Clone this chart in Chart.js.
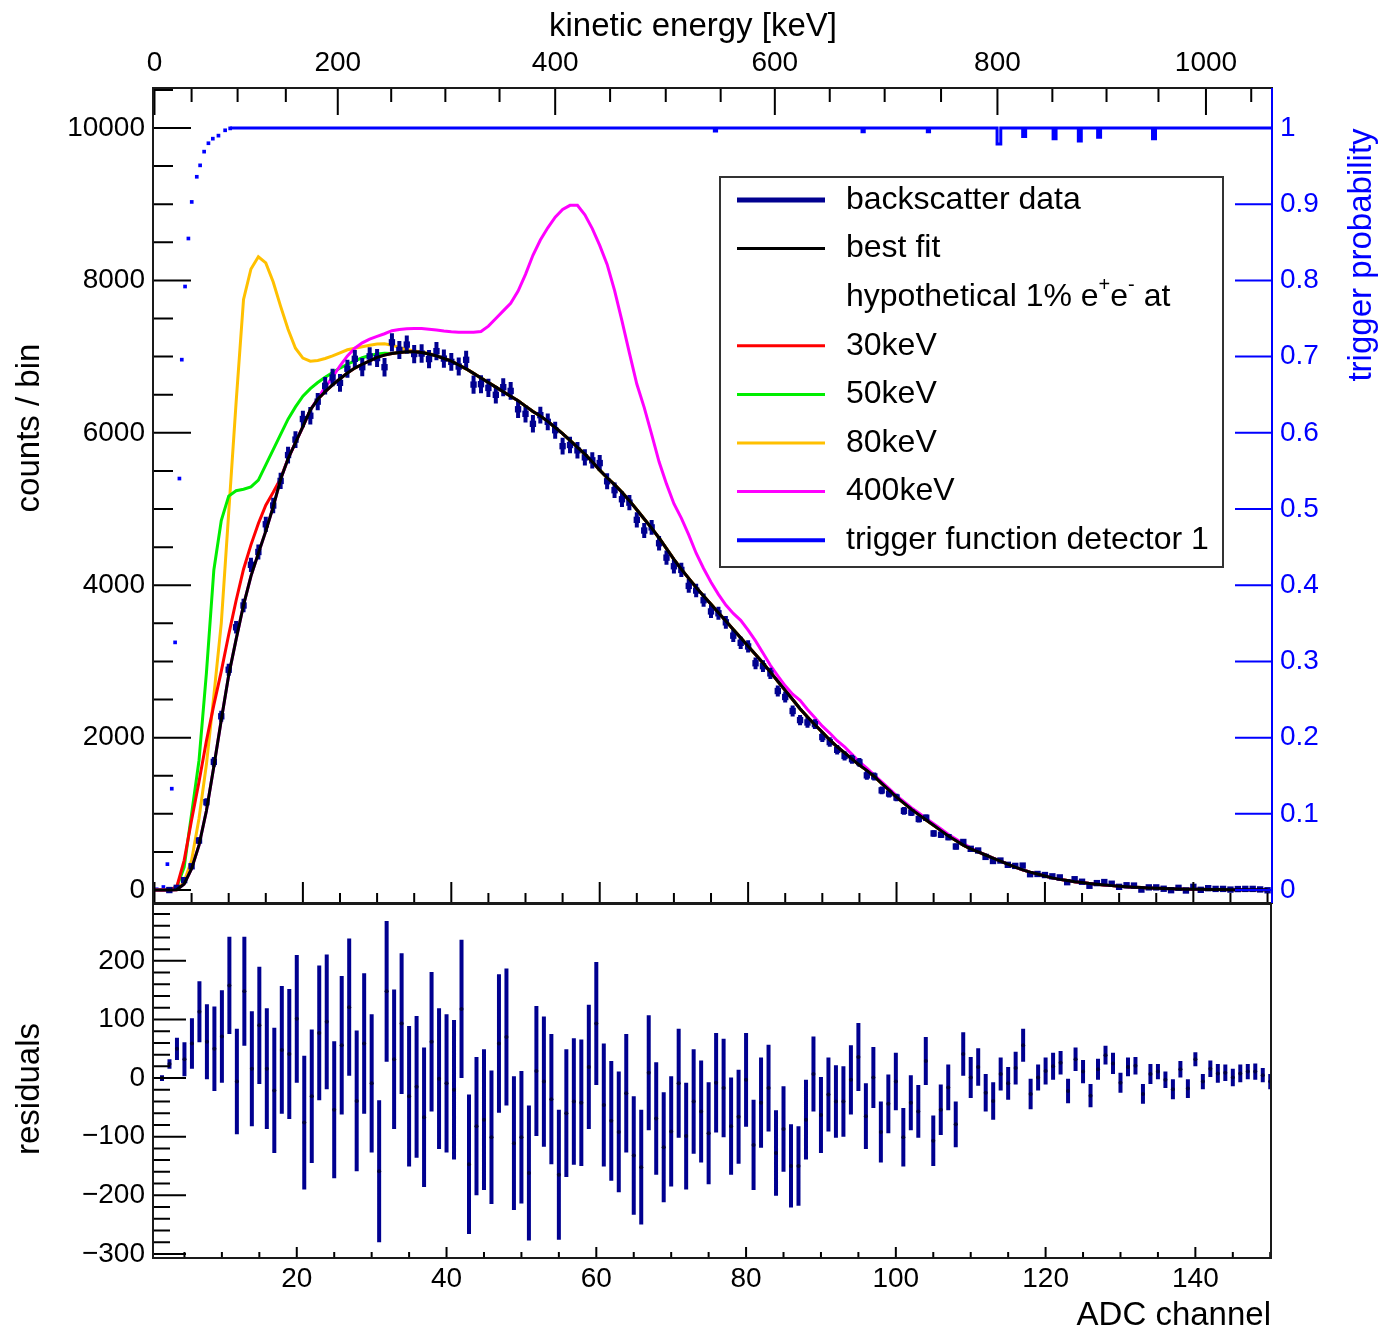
<!DOCTYPE html>
<html>
<head>
<meta charset="utf-8">
<script src="https://cdn.jsdelivr.net/npm/chart.js@4.4.1/dist/chart.umd.min.js"></script>
<style>
  html, body { margin: 0; padding: 0; background: #fff; }
  #wrap { position: relative; width: 1385px; height: 1335px; }
  canvas { position: absolute; left: 0; }
  #top { top: 0; }
  #bottom { top: 900px; }
</style>
</head>
<body>
<div id="wrap">
  <canvas id="bottom" width="1385" height="435"></canvas>
  <canvas id="top" width="1385" height="910"></canvas>
</div>
<script>
// best fit, counts per ADC channel, channel 0..150
const fitCounts = [
  0, 0, 0, 5, 80, 280, 590, 1040, 1620, 2230,
  2820, 3290, 3740, 4120, 4420, 4710, 5030, 5390, 5660, 5870,
  6080, 6300, 6440, 6540, 6630, 6710, 6785, 6850, 6900, 6945,
  6990, 7020, 7040, 7055, 7065, 7065, 7055, 7035, 7010, 6975,
  6940, 6890, 6840, 6780, 6720, 6660, 6600, 6540, 6480, 6420,
  6350, 6280, 6220, 6150, 6070, 5990, 5900, 5810, 5720, 5620,
  5510, 5410, 5320, 5220, 5110, 4990, 4870, 4750, 4620, 4480,
  4340, 4210, 4090, 3970, 3860, 3750, 3640, 3530, 3420, 3310,
  3200, 3090, 2980, 2860, 2740, 2620, 2500, 2380, 2270, 2170,
  2070, 1970, 1880, 1800, 1720, 1640, 1570, 1490, 1400, 1310,
  1220, 1140, 1060, 990, 920, 850, 780, 710, 650, 590,
  540, 500, 460, 420, 380, 340, 300, 265, 235, 210,
  185, 160, 140, 125, 110, 98, 86, 76, 66, 58,
  50, 44, 38, 33, 28, 24, 20, 17, 14, 12,
  10, 9, 8, 7, 6, 5, 5, 4, 4, 3,
  3
];

// data - fit, channel 2..150
const residuals = [
  0, 24, 50, 32, 59, 113, 62, 50, 71, 158,
  -6, 148, 16, 90, 16, -21, 48, 41, 101, -76,
  -31, 77, 96, -54, 56, 121, -39, 59, -9, -159,
  148, 32, 93, -31, -15, -67, 62, -1, -9, -20,
  118, -147, -82, -71, -101, 59, 70, -111, -101, -162,
  12, -6, -36, -165, -60, -40, -42, 19, 93, -46,
  -73, -92, -26, -132, -152, 9, -69, -118, -91, -9,
  -99, -40, -57, -94, -8, -17, -82, -66, -3, -114,
  -42, -17, -128, -87, -150, -150, -71, 7, -63, -28,
  -40, -40, -3, 36, -65, 1, -92, -44, -6, -101,
  -42, -57, 29, -107, -54, -16, -79, 41, 1, 19,
  -25, -39, 7, -9, 17, 56, -27, 1, 12, 20,
  26, -22, 32, 11, -30, 15, 39, 25, -8, 19,
  21, -27, 7, 11, -3, -19, 15, -18, 32, -6,
  16, 8, 9, 1, 8, 11, 11, 5, -6
];

// statistical error of each bin, channel 2..150
const dataErr = [
  5, 8, 19, 29, 43, 52, 64, 72, 79, 83,
  90, 93, 98, 100, 103, 107, 109, 111, 109, 114,
  114, 115, 115, 117, 118, 117, 120, 120, 118, 121,
  120, 119, 120, 120, 121, 119, 119, 120, 118, 119,
  118, 119, 118, 120, 114, 118, 117, 114, 113, 115,
  111, 111, 111, 111, 109, 108, 108, 106, 105, 105,
  102, 103, 101, 101, 98, 98, 96, 94, 94, 93,
  91, 89, 87, 87, 85, 84, 83, 80, 80, 77,
  77, 74, 73, 73, 71, 68, 68, 64, 65, 63,
  62, 60, 59, 58, 56, 52, 52, 50, 49, 50,
  47, 45, 41, 43, 43, 39, 39, 37, 35, 32,
  32, 32, 28, 28, 28, 28, 26, 22, 23, 23,
  20, 21, 20, 20, 20, 18, 16, 18, 17, 16,
  15, 17, 17, 13, 14, 17, 14, 16, 12, 13,
  14, 16, 14, 15, 15, 13, 14, 12, 13
];

// hypothetical curves, where they leave the fit (start channel, values)
const hyp30Start = 0;
const hyp30 = [0, 0, 0, 40, 390, 920, 1420, 1960, 2430, 2870, 3350, 3800, 4210, 4530, 4810, 5050, 5220, 5400, 5660];
const hyp50Start = 0;
const hyp50 = [0, 0, 0, 40, 300, 1000, 1700, 2850, 4200, 4850, 5170, 5240, 5260, 5290, 5380, 5580,
  5780, 5980, 6180, 6340, 6480, 6580, 6660, 6730, 6790, 6850, 6900, 6945, 6985, 7015, 7035, 7045];
const hyp80Start = 0;
const hyp80 = [0, 0, 0, 5, 110, 390, 940, 1650, 2550, 3500, 4950, 6400, 7750, 8150, 8310, 8230,
  7980, 7660, 7360, 7110, 6980, 6940, 6950, 6975, 7010, 7050, 7090, 7110, 7130, 7150, 7165, 7170,
  7150, 7120, 7095, 7075, 7060, 7040, 7015, 6980, 6945];
const hyp400Start = 22;
const hyp400 = [6450, 6600, 6730, 6880, 7010, 7110, 7180, 7230, 7265, 7300, 7340, 7355, 7365, 7370,
  7370, 7360, 7350, 7335, 7325, 7320, 7320, 7320, 7330, 7400, 7500, 7600, 7700, 7860, 8080, 8330,
  8530, 8690, 8830, 8930, 8985, 8985, 8860, 8680, 8460, 8210, 7870, 7470, 7050, 6640, 6330, 5980,
  5620, 5330, 5070, 4880, 4660, 4420, 4220, 4040, 3880, 3740, 3630, 3540, 3410, 3270, 3110, 2950,
  2810, 2680, 2570, 2490, 2370, 2260, 2150, 2060, 1960, 1880, 1780, 1680, 1600, 1510, 1420, 1330,
  1240, 1160, 1080, 1010, 940, 870, 800, 730, 670, 610, 555];

// trigger probability: rising edge (ADC channel, probability)
const trigCh = [0.3, 1.2, 1.74, 2.33, 2.78, 3.36, 3.68, 4.12, 4.57, 5.02, 5.70, 6.15, 6.69, 7.27, 7.86, 8.62, 9.52, 10.2];
const trigP = [0.001, 0.004, 0.034, 0.133, 0.325, 0.54, 0.696, 0.792, 0.855, 0.903, 0.936, 0.951, 0.969, 0.98, 0.986, 0.99, 0.997, 0.9995];
// plateau with the few bins that drop below 1
const plateauCh = [10.2, 75.3, 75.6, 75.9, 95.2, 95.5, 95.8, 104.0, 104.3, 104.6, 113.3, 113.8, 114.3, 116.8, 117.2, 117.6,
  120.9, 121.3, 121.7, 124.3, 124.7, 125.1, 126.9, 127.3, 127.7, 134.3, 134.7, 135.1, 150.6];
const plateauP = [1, 1, 0.996, 1, 1, 0.995, 1, 1, 0.995, 1, 1, 0.979, 1, 1, 0.989, 1,
  1, 0.986, 1, 1, 0.983, 1, 1, 0.988, 1, 1, 0.986, 1, 1];

// axis ticks and labels
const countTicks = [0, 2000, 4000, 6000, 8000, 10000];
const countLabels = ['0', '2000', '4000', '6000', '8000', '10000'];
const trigTicks = [0, 0.1, 0.2, 0.3, 0.4, 0.5, 0.6, 0.7, 0.8, 0.9, 1];
const trigLabels = ['0', '0.1', '0.2', '0.3', '0.4', '0.5', '0.6', '0.7', '0.8', '0.9', '1'];
const adcTicks = [20, 40, 60, 80, 100, 120, 140];
const adcLabels = ['20', '40', '60', '80', '100', '120', '140'];
const residTicks = [-300, -200, -100, 0, 100, 200];
const residLabels = ['\u2212300', '\u2212200', '\u2212100', '0', '100', '200'];
// kinetic energy scale (keV) and the ADC channel where each tick sits
const keVTicks = [0, 50, 100, 150, 200, 250, 300, 350, 400, 450, 500, 550, 600, 650, 700, 750, 800, 850, 900, 950, 1000, 1050];
const keVTickCh = [0, 5.0, 11.2, 17.7, 24.7, 31.9, 39.2, 46.5, 54.0, 61.4, 68.9, 76.3, 83.6, 91.0, 98.4, 106.0, 113.6, 121.0, 128.3, 135.3, 141.7, 147.8];

const navy = '#000090';
const blue = '#0000ff';
const FONT = '"Liberation Sans", Arial, sans-serif';
Chart.defaults.font.family = FONT;
Chart.defaults.color = '#000';

const range = (a, b, s) => { const r = []; for (let v = a; v <= b + 1e-9; v += s) r.push(+v.toFixed(6)); return r; };
const toXY = (xs, ys) => xs.map((x, i) => ({ x: x, y: ys[i] }));
const fitCh = fitCounts.map((_, i) => i);
const dataCh = residuals.map((_, i) => i + 2);
const counts = residuals.map((r, i) => fitCounts[i + 2] + r);
const withFit = (start, vals) => fitCounts.map((v, ch) => (ch >= start && ch < start + vals.length) ? vals[ch - start] : v);

const keVMajorCh = keVTickCh.filter((_, i) => keVTicks[i] % 200 === 0);
const keVMajorLabels = keVTicks.filter(e => e % 200 === 0).map(String);

const off = { display: false, drawTicks: false };
const setTicks = vals => scale => { scale.ticks = vals.map(v => ({ value: v })); };
// fixed axis box, no extra label padding pushed into the plot area
const fixBox = (w, h) => s => {
  if (w != null) s.width = w;
  if (h != null) s.height = h;
  s.paddingTop = 0; s.paddingBottom = 0; s.paddingLeft = 0; s.paddingRight = 0;
};

// ROOT-like frame: inward ticks, box, error bars, titles and legend
const rootFrame = {
  id: 'rootFrame',
  beforeDatasetDraw(chart, args) {
    const ds = chart.data.datasets[args.index];
    if (!ds.errors) return;
    const ctx = chart.ctx, a = chart.chartArea;
    const ys = chart.scales[args.meta.yAxisID];
    ctx.save();
    ctx.beginPath();
    ctx.rect(a.left, a.top, a.right - a.left, a.bottom - a.top);
    ctx.clip();
    ctx.strokeStyle = ds.borderColor;
    ctx.lineWidth = ds.errorWidth;
    ctx.beginPath();
    args.meta.data.forEach((pt, i) => {
      const v = ds.data[i].y, e = ds.errors[i];
      ctx.moveTo(pt.x, ys.getPixelForValue(v + e));
      ctx.lineTo(pt.x, ys.getPixelForValue(v - e));
    });
    ctx.stroke();
    ctx.restore();
  },
  afterDraw(chart, args, opts) {
    const ctx = chart.ctx, a = chart.chartArea;
    ctx.save();
    (opts.ticks || []).forEach(t => {
      const s = chart.scales[t.scale];
      ctx.strokeStyle = t.color || '#000';
      ctx.lineWidth = 2;
      ctx.beginPath();
      [[t.major, t.majorLen], [t.minor || [], t.minorLen]].forEach(([vals, len]) => {
        vals.forEach(v => {
          const p = s.getPixelForValue(v);
          if (t.side === 'left' || t.side === 'right') {
            if (p < a.top - 0.5 || p > a.bottom + 0.5) return;
            const x0 = t.side === 'left' ? a.left : a.right;
            ctx.moveTo(x0, p);
            ctx.lineTo(t.side === 'left' ? x0 + len : x0 - len, p);
          } else {
            if (p < a.left - 0.5 || p > a.right + 0.5) return;
            const y0 = t.side === 'top' ? a.top : a.bottom;
            ctx.moveTo(p, y0);
            ctx.lineTo(p, t.side === 'top' ? y0 + len : y0 - len);
          }
        });
      });
      ctx.stroke();
    });
    ctx.strokeStyle = '#1a1a1a';
    ctx.lineWidth = 2;
    ctx.strokeRect(a.left, a.top, a.right - a.left, a.bottom - a.top);
    if (opts.rightColor) {
      ctx.strokeStyle = opts.rightColor;
      ctx.beginPath();
      ctx.moveTo(a.right, a.top);
      ctx.lineTo(a.right, a.bottom);
      ctx.stroke();
    }
    ctx.textBaseline = 'middle';
    (opts.titles || []).forEach(t => {
      ctx.save();
      ctx.fillStyle = t.color || '#000';
      ctx.font = '33px ' + FONT;
      ctx.translate(t.x, t.y);
      if (t.rot) ctx.rotate(-Math.PI / 2);
      ctx.textAlign = t.align || 'center';
      ctx.fillText(t.text, 0, 0);
      ctx.restore();
    });
    const lg = opts.legend;
    if (lg) {
      ctx.fillStyle = '#fff';
      ctx.fillRect(lg.x, lg.y, lg.w, lg.h);
      ctx.strokeStyle = '#333';
      ctx.lineWidth = 2;
      ctx.strokeRect(lg.x, lg.y, lg.w, lg.h);
      lg.rows.forEach((row, i) => {
        const y = lg.rowY + i * lg.rowStep;
        ctx.fillStyle = '#000';
        ctx.textAlign = 'left';
        if (row.parts) {
          let x = lg.textX;
          row.parts.forEach(([txt, sup]) => {
            ctx.font = (sup ? 20 : 32) + 'px ' + FONT;
            ctx.fillText(txt, x, sup ? y - 12 : y);
            x += ctx.measureText(txt).width;
          });
          return;
        }
        const ds = chart.data.datasets[row.ds];
        ctx.strokeStyle = ds.borderColor;
        ctx.lineWidth = row.width;
        ctx.beginPath();
        ctx.moveTo(lg.lineX0, y);
        ctx.lineTo(lg.lineX1, y);
        ctx.stroke();
        ctx.font = '32px ' + FONT;
        ctx.fillText(ds.label, lg.textX, y);
      });
    }
    ctx.restore();
  }
};

const lineDs = (label, color, ys, order) => ({
  label: label, data: toXY(fitCh, ys), borderColor: color, backgroundColor: color,
  borderWidth: 3, pointRadius: 0, tension: 0, order: order
});

new Chart(document.getElementById('top'), {
  type: 'line',
  data: {
    datasets: [
      { label: 'backscatter data', data: toXY(dataCh, counts), showLine: false,
        borderColor: navy, backgroundColor: navy, pointStyle: 'rect', pointRadius: 4.5, pointBorderWidth: 0,
        errors: dataErr, errorWidth: 4, order: 1 },
      lineDs('best fit', '#000000', fitCounts, 0),
      lineDs('30keV', '#ff0000', withFit(hyp30Start, hyp30), 3),
      lineDs('50keV', '#00ee00', withFit(hyp50Start, hyp50), 4),
      lineDs('80keV', '#ffc000', withFit(hyp80Start, hyp80), 5),
      lineDs('400keV', '#ff00ff', withFit(hyp400Start, hyp400), 2),
      { label: 'trigger function detector 1', data: toXY(trigCh, trigP), yAxisID: 'yTrig', showLine: false,
        borderColor: blue, backgroundColor: blue, pointStyle: 'rect', pointRadius: 2.6, pointBorderWidth: 0, order: 6 },
      { label: 'trigger plateau', data: toXY(plateauCh, plateauP), yAxisID: 'yTrig', stepped: 'middle',
        borderColor: blue, borderWidth: 3, pointRadius: 0, order: 6 }
    ]
  },
  options: {
    responsive: false, animation: false, devicePixelRatio: 1,
    layout: { padding: { bottom: 7 } },
    plugins: {
      legend: { display: false }, tooltip: { enabled: false },
      rootFrame: {
        rightColor: blue,
        ticks: [
          { scale: 'y', side: 'left', major: countTicks, minor: range(0, 10500, 500), majorLen: 38, minorLen: 20 },
          { scale: 'x', side: 'bottom', major: range(0, 140, 20), minor: range(0, 150, 5), majorLen: 21, minorLen: 10 },
          { scale: 'xE', side: 'top', major: keVMajorCh, minor: keVTickCh, majorLen: 27, minorLen: 14 },
          { scale: 'yTrig', side: 'right', major: trigTicks, majorLen: 37, color: blue }
        ],
        titles: [
          { text: 'kinetic energy [keV]', x: 693, y: 27 },
          { text: 'counts / bin', x: 30, y: 428, rot: true },
          { text: 'trigger probability', x: 1362, y: 255, rot: true, color: blue }
        ],
        legend: {
          x: 720, y: 177, w: 503, h: 390, lineX0: 737, lineX1: 825, textX: 846, rowY: 200, rowStep: 48.6,
          rows: [
            { ds: 0, width: 5 }, { ds: 1, width: 3 },
            { parts: [['hypothetical 1% e', 0], ['+', 1], ['e', 0], ['-', 1], [' at', 0]] },
            { ds: 2, width: 3 }, { ds: 3, width: 3 }, { ds: 4, width: 3 }, { ds: 5, width: 3 },
            { ds: 6, width: 4 }
          ]
        }
      }
    },
    scales: {
      x: { type: 'linear', min: -0.2, max: 150.6, display: false },
      xE: { type: 'linear', position: 'top', min: -0.2, max: 150.6, grid: off, border: { display: false },
        afterBuildTicks: setTicks(keVMajorCh),
        ticks: { autoSkip: false, maxRotation: 0, padding: 8, font: { size: 28 }, callback: (v, i) => keVMajorLabels[i] },
        afterFit: fixBox(null, 88) },
      y: { position: 'left', min: -170, max: 10525, grid: off, border: { display: false },
        afterBuildTicks: setTicks(countTicks),
        ticks: { padding: 8, font: { size: 28 }, callback: (v, i) => countLabels[i] },
        afterFit: fixBox(153, null) },
      yTrig: { position: 'right', min: -0.017, max: 1.0525, grid: off, border: { display: false },
        afterBuildTicks: setTicks(trigTicks),
        ticks: { padding: 8, color: blue, font: { size: 28 }, callback: (v, i) => trigLabels[i] },
        afterFit: fixBox(113, null) }
    }
  },
  plugins: [rootFrame]
});

new Chart(document.getElementById('bottom'), {
  type: 'line',
  data: {
    datasets: [
      { label: 'residuals', data: toXY(dataCh, residuals), showLine: false,
        borderColor: navy, backgroundColor: '#000040', pointRadius: 2, pointBorderWidth: 0,
        errors: dataErr, errorWidth: 4 }
    ]
  },
  options: {
    responsive: false, animation: false, devicePixelRatio: 1,
    layout: { padding: { top: 3, right: 114 } },
    plugins: {
      legend: { display: false }, tooltip: { enabled: false },
      rootFrame: {
        ticks: [
          { scale: 'y', side: 'left', major: residTicks, minor: range(-300, 280, 20), majorLen: 33, minorLen: 17 },
          { scale: 'x', side: 'bottom', major: adcTicks, minor: range(0, 150, 5), majorLen: 11, minorLen: 6 }
        ],
        titles: [
          { text: 'residuals', x: 30, y: 189, rot: true },
          { text: 'ADC channel', x: 1271, y: 416, align: 'right' }
        ]
      }
    },
    scales: {
      x: { type: 'linear', min: 0.8, max: 150.1, grid: off, border: { display: false },
        afterBuildTicks: setTicks(adcTicks),
        ticks: { autoSkip: false, maxRotation: 0, padding: 4, font: { size: 28 }, callback: (v, i) => adcLabels[i] },
        afterFit: fixBox(null, 77) },
      y: { position: 'left', min: -307, max: 297, grid: off, border: { display: false },
        afterBuildTicks: setTicks(residTicks),
        ticks: { padding: 8, font: { size: 28 }, callback: (v, i) => residLabels[i] },
        afterFit: fixBox(153, null) }
    }
  },
  plugins: [rootFrame]
});
</script>
</body>
</html>
